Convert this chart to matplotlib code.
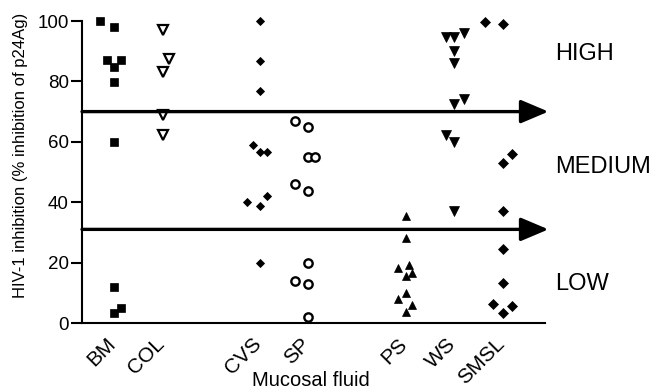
import numpy as np
import matplotlib
matplotlib.use("Agg")
import matplotlib.pyplot as plt
from matplotlib.transforms import ScaledTranslation

plt.rcParams["font.family"] = ["Liberation Sans", "DejaVu Sans"]

# fluids and their measured inhibition (% inhibition of p24Ag)
fluids = ["BM", "COL", "CVS", "SP", "PS", "WS", "SMSL"]

bm = [100, 98.1, 87.1, 87.1, 84.9, 79.9, 59.8, 12.0, 4.9, 3.2]
col = [97.0, 87.3, 83.2, 68.9, 62.3]
cvs = [100, 86.9, 76.9, 58.9, 56.7, 56.7, 42.1, 40.0, 38.7, 19.8]
sp = [67.0, 65.0, 54.9, 54.9, 46.0, 43.8, 19.8, 13.9, 12.9, 2.1]
ps = [35.5, 28.0, 18.1, 19.2, 16.7, 15.6, 10.0, 7.8, 6.0, 3.7]
ws = [94.8, 94.8, 96.1, 90.2, 86.0, 72.4, 74.2, 62.3, 60.0, 37.2]
smsl = [99.8, 98.9, 56.0, 53.1, 37.2, 24.5, 13.1, 6.3, 5.6, 3.2]

# horizontal scatter of the points within each column
bm_dx = [-0.29, 0, -0.15, 0.14, 0, 0, 0, 0, 0.14, 0]
col_dx = [0, 0.14, 0, 0, 0]
cvs_dx = [0, 0, 0, -0.15, 0, 0.15, 0.15, -0.27, 0, 0]
sp_dx = [-0.27, 0, 0, 0.14, -0.27, 0, 0, -0.27, 0, 0]
ps_dx = [0, 0, -0.15, 0.07, 0.14, 0, 0, -0.15, 0.14, 0]
ws_dx = [-0.17, 0, 0.2, 0, 0, 0, 0.2, -0.17, 0, 0]
smsl_dx = [-0.37, 0, 0.2, 0, 0, 0, 0, -0.2, 0.2, 0]

# category bands
bands = [("HIGH", 89), ("MEDIUM", 51.5), ("LOW", 13)]
cutoffs = [70, 31]

xpos = [1, 2, 4, 5, 7, 8, 9]
groups = [bm, col, cvs, sp, ps, ws, smsl]
offsets = [bm_dx, col_dx, cvs_dx, sp_dx, ps_dx, ws_dx, smsl_dx]
styles = [
    dict(marker="s", ms=6, mfc="k", mec="k", mew=0.5),
    dict(marker="v", ms=7, mfc="w", mec="k", mew=1.6),
    dict(marker="D", ms=3.8, mfc="k", mec="k", mew=0.6),
    dict(marker="o", ms=6, mfc="w", mec="k", mew=1.7),
    dict(marker="^", ms=5.5, mfc="k", mec="k", mew=0.5),
    dict(marker="v", ms=6.5, mfc="k", mec="k", mew=0.5),
    dict(marker="D", ms=4.8, mfc="k", mec="k", mew=0.5),
]

fig = plt.figure(figsize=(6.55, 3.91), dpi=100)
ax = fig.add_axes([82 / 655, 68 / 391, 463 / 655, 302 / 391])

for x0, vals, dx, st in zip(xpos, groups, offsets, styles):
    xs = x0 + np.array(dx)
    ax.plot(xs, vals, linestyle="none", clip_on=False, zorder=3, **st)

xmin, xmax = 0.34, 9.87
ax.set_xlim(xmin, xmax)
ax.set_ylim(0, 100)

for c in cutoffs:
    ax.annotate(
        "",
        xy=(9.94, c),
        xytext=(xmin, c),
        xycoords="data",
        arrowprops=dict(
            arrowstyle="-|>,head_length=1.7,head_width=0.72",
            mutation_scale=10,
            lw=2.4,
            color="k",
            shrinkA=0,
            shrinkB=0,
        ),
        annotation_clip=False,
        zorder=4,
    )

for name, yv in bands:
    ax.text(10.07, yv, name, fontsize=17, va="center", ha="left", clip_on=False)

ax.spines["top"].set_visible(False)
ax.spines["right"].set_visible(False)
ax.spines["left"].set_linewidth(1.5)
ax.spines["bottom"].set_linewidth(1.5)

ax.set_yticks([0, 20, 40, 60, 80, 100])
ax.tick_params(axis="y", length=8, width=1.5, labelsize=13.5, pad=1.5)
ax.set_xticks(xpos)
ax.set_xticklabels(fluids, rotation=45, ha="right", rotation_mode="anchor", fontsize=15)
ax.tick_params(axis="x", length=0, pad=8)
shift = ScaledTranslation(-8 / 100, 0, fig.dpi_scale_trans)
for lab in ax.get_xticklabels():
    lab.set_transform(lab.get_transform() + shift)

ax.set_xlabel("Mucosal fluid", fontsize=14.5)
ax.xaxis.label.set_va("baseline")
ax.xaxis.set_label_coords(0.495, -0.21)
ax.set_ylabel("HIV-1 inhibition (% inhibition of p24Ag)", fontsize=12)
ax.yaxis.set_label_coords(-0.116, 0.556)

fig.savefig("out.png", dpi=100)
